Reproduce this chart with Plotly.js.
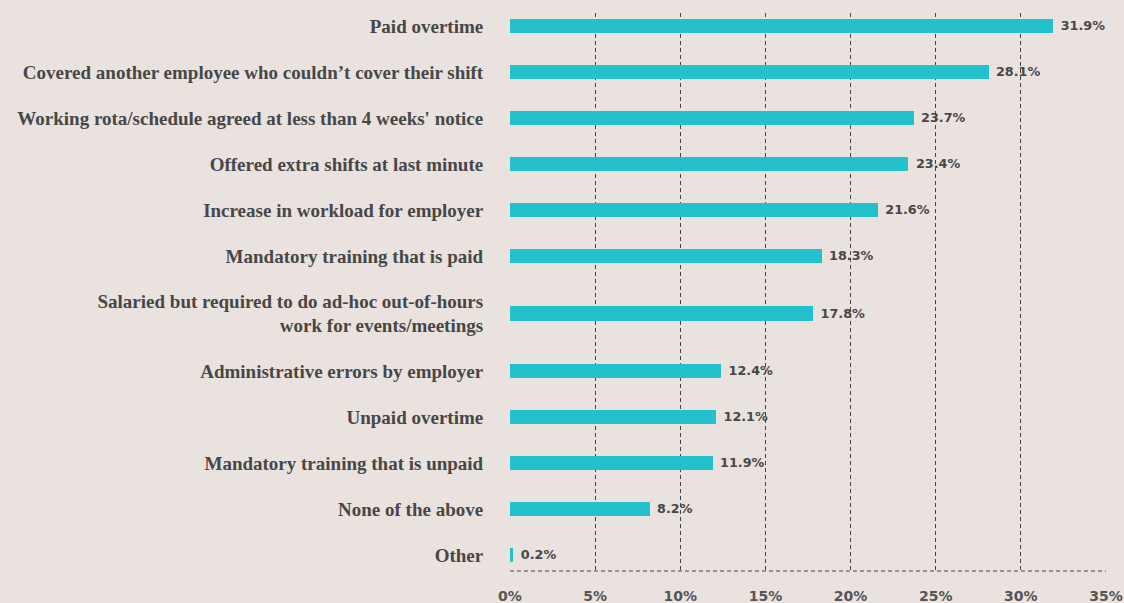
<!DOCTYPE html>
<html>
<head>
<meta charset="utf-8">
<script src="https://cdn.plot.ly/plotly-3.0.1.min.js"></script>
<style>html,body{margin:0;padding:0;background:#e9e2de;}#chart{width:1124px;height:603px;}</style>
</head>
<body>
<div id="chart"></div>
<script>
const categories = [
  "Paid overtime",
  "Covered another employee who couldn’t cover their shift",
  "Working rota/schedule agreed at less than 4 weeks' notice",
  "Offered extra shifts at last minute",
  "Increase in workload for employer",
  "Mandatory training that is paid",
  "Salaried but required to do ad-hoc out-of-hours<br>work for events/meetings",
  "Administrative errors by employer",
  "Unpaid overtime",
  "Mandatory training that is unpaid",
  "None of the above",
  "Other"
];
const values = [31.9, 28.1, 23.7, 23.4, 21.6, 18.3, 17.8, 12.4, 12.1, 11.9, 8.2, 0.2];
const xTicks = [0, 5, 10, 15, 20, 25, 30, 35];
const xTickLabels = ["0%", "5%", "10%", "15%", "20%", "25%", "30%", "35%"];

// Slot layout: each category gets a slot whose height grows with its label's line count
const slotHeights = categories.map(c => 1 + 0.5 * (c.split("<br>").length - 1));
const positions = [];
let acc = 0;
slotHeights.forEach((h, i) => {
  if (i === 0) { positions.push(0); acc = h / 2; }
  else { positions.push(acc + h / 2); acc += h; }
});
const last = positions[positions.length - 1];

const trace = {
  type: "bar",
  orientation: "h",
  x: values,
  y: positions,
  width: 0.32,
  marker: { color: "#22c1cc" },
  texttemplate: "\u00a0%{x}%",
  textposition: "outside",
  cliponaxis: false,
  textfont: { family: "DejaVu Sans", size: 13, color: "#474747", weight: 700 },
  hoverinfo: "skip"
};

const layout = {
  width: 1124,
  height: 603,
  margin: { l: 510, r: 18, t: 13, b: 32, pad: 0 },
  paper_bgcolor: "#e9e2de",
  plot_bgcolor: "#e9e2de",
  showlegend: false,
  bargap: 0,
  xaxis: {
    range: [0, 35],
    tickvals: xTicks,
    ticktext: xTickLabels,
    showgrid: true,
    gridcolor: "#444444",
    gridwidth: 1,
    griddash: "4px,3px",
    zeroline: false,
    showline: false,
    ticks: "outside",
    ticklen: 12,
    tickcolor: "rgba(0,0,0,0)",
    tickfont: { family: "DejaVu Sans", size: 14, color: "#555555", weight: 700 },
    fixedrange: true
  },
  yaxis: {
    range: [last + 0.35, -0.28],
    tickvals: positions,
    ticktext: categories,
    showgrid: false,
    zeroline: false,
    showline: false,
    ticks: "outside",
    ticklen: 22,
    tickcolor: "rgba(0,0,0,0)",
    tickfont: { family: "Liberation Serif", size: 19, color: "#474747", weight: 700 },
    fixedrange: true
  },
  shapes: [{
    type: "line",
    xref: "x", yref: "paper",
    x0: 0, x1: 35, y0: 0, y1: 0,
    line: { color: "#444444", width: 1, dash: "4px,3px" },
    layer: "below"
  }]
};

Plotly.newPlot("chart", [trace], layout, { displayModeBar: false, staticPlot: true });
</script>
</body>
</html>
